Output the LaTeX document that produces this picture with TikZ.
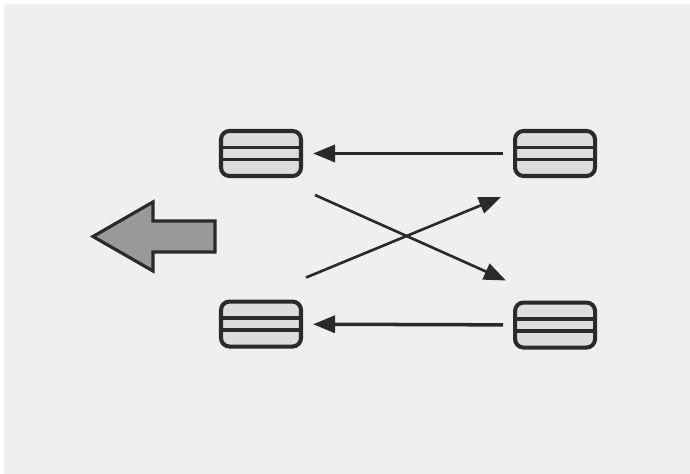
\documentclass[tikz,border=0pt]{standalone}
\usepackage{tikz}
\usetikzlibrary{arrows.meta, positioning}
\definecolor{bggray}{HTML}{EFEFEF}
\definecolor{boxgray}{HTML}{DDDDDD}
\definecolor{ink}{HTML}{2A2A2A}
\definecolor{pushgray}{HTML}{999999}
\tikzstyle{record} = [rectangle, rounded corners=0.17cm, minimum width=1.6cm, minimum height=0.9cm, draw=ink, line width=2.3pt, fill=boxgray,
  path picture={\draw[ink, line width=2pt] ([yshift=0.12cm]path picture bounding box.west) -- ([yshift=0.12cm]path picture bounding box.east);
                \draw[ink, line width=2pt] ([yshift=-0.12cm]path picture bounding box.west) -- ([yshift=-0.12cm]path picture bounding box.east);}]
\tikzstyle{arrow} = [ink, line width=2pt, -{Triangle[length=0.44cm, width=0.34cm]}]
\tikzstyle{cross} = [ink, line width=1.5pt, -{Triangle[length=0.44cm, width=0.34cm]}]
\tikzstyle{bigarrow} = [draw=ink, line width=1.8pt, fill=pushgray, line join=miter]

\begin{document}
\begin{tikzpicture}
    \useasboundingbox (0,0) rectangle (13.8,-9.48);
    \fill[bggray] (0.08,-0.08) rectangle (13.8,-9.48);

    \node (lefttop) [record] at (5.22,-3.07) {};
    \node (righttop) [record, right=4.2cm of lefttop] {};
    \node (leftbottom) [record, below=2.43cm of lefttop] {};
    \node (rightbottom) [record, below=2.45cm of righttop] {};

    \coordinate (c1) at ([shift={(0.24,-0.34)}]lefttop.south east);
    \coordinate (c2) at ([shift={(-0.14,0.4)}]rightbottom.north west);
    \coordinate (c3) at ([shift={(0.06,0.44)}]leftbottom.north east);
    \coordinate (c4) at ([shift={(-0.24,-0.38)}]righttop.south west);
    \coordinate (push) at (1.86,-4.73);

    \draw [arrow, shorten <=0.2cm, shorten >=0.2cm] (righttop) -- (lefttop);
    \draw [arrow, shorten <=0.2cm, shorten >=0.2cm] (rightbottom) -- (leftbottom);
    \draw [cross] (c1) -- (c2);
    \draw [cross] (c3) -- (c4);

    \draw [bigarrow] (push) -- ++(1.2,0.69) -- ++(0,-0.38) -- ++(1.24,0) -- ++(0,-0.62) -- ++(-1.24,0) -- ++(0,-0.38) -- cycle;
\end{tikzpicture}
\end{document}
